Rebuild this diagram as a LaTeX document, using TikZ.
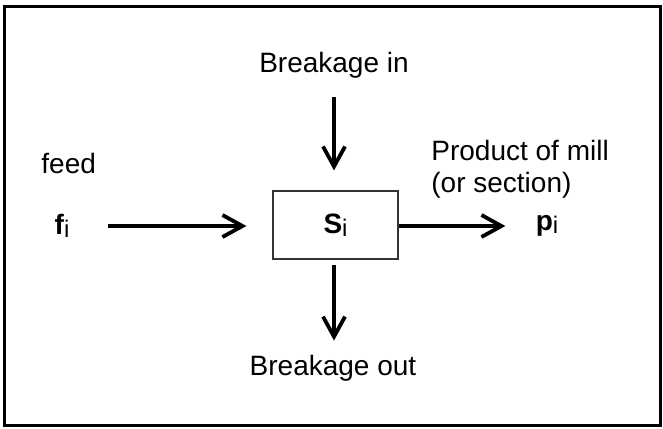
\documentclass[tikz,border=0pt]{standalone}
\usepackage{fontspec}
\setmainfont{Liberation Sans}
\usetikzlibrary{arrows.meta}
\newcommand{\lowidx}[1]{\raisebox{-1.5pt}{\fontsize{12}{12}\selectfont #1}}

\begin{document}
\begin{tikzpicture}[x=0.5pt,y=-0.5pt,font=\fontsize{14}{16}\selectfont,
    flow/.style={-{Straight Barb[length=10pt,width=11pt]},line width=1.9pt},
    txt/.style={inner sep=0pt}]
            \useasboundingbox (0,0) rectangle (663,428);
            \draw[line width=1.5pt] (4,6) rectangle (660,425);
            \node[draw=black!80,line width=0.6pt,minimum width=62.5pt,minimum height=34pt] (si) at (335.5,225) {\textbf{S}\lowidx{i}};
            \node[txt] (fi) at (62,226) {\textbf{f}\lowidx{i}};
            \node[txt] (pi) at (547,226) {\textbf{p}\lowidx{i}};
            \node[txt,anchor=west] (feed) at (41,163) {feed};
            \node[txt,anchor=west,align=left] (prod) at (431,169) {Product of mill\\(or section)};
            \node[txt] (brin) at (334,65) {Breakage in};
            \node[txt] (brout) at (333,368) {Breakage out};
            \draw[flow,shorten <=19pt,shorten >=13pt] (fi) -- (fi -| si.west);
            \draw[flow,shorten >=15pt] (si.east |- pi) -- (pi);
            \draw[flow,shorten <=9.5pt,shorten >=10pt] (brin) -- (brin |- si.north);
            \draw[flow,shorten <=2.5pt,shorten >=7pt] (brin |- si.south) -- (brin |- brout.north);
        \end{tikzpicture}
\end{document}
